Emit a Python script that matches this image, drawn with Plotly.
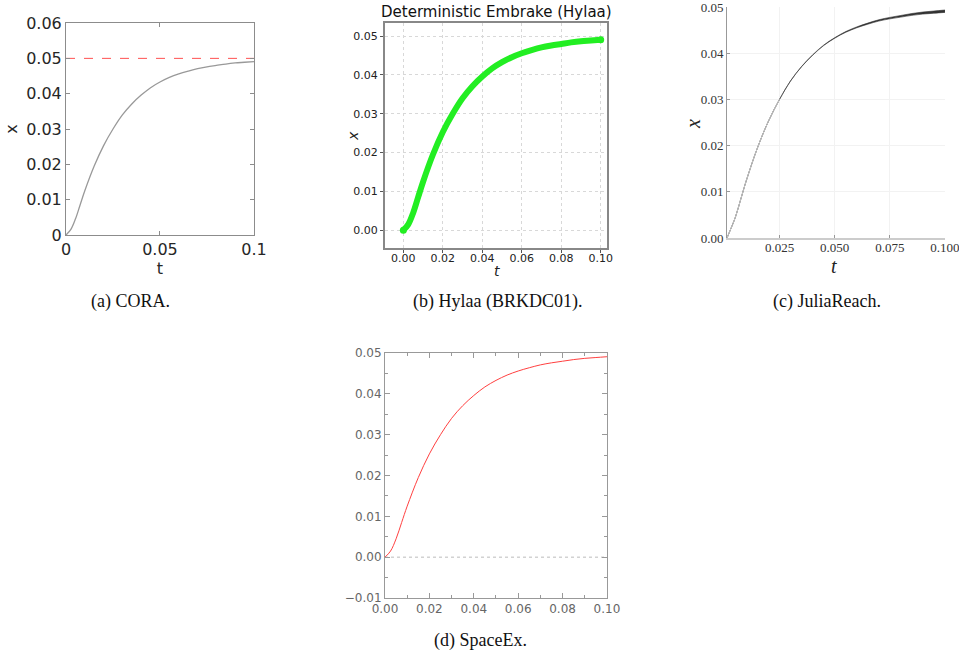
import plotly.graph_objects as go

# Shared trajectory (t in s, x position)
t_vals = [0, 0.0025, 0.005, 0.0075, 0.01, 0.015, 0.02, 0.025, 0.03, 0.035, 0.04,
          0.045, 0.05, 0.055, 0.06, 0.065, 0.07, 0.075, 0.08, 0.085, 0.09, 0.095, 0.1]
x_vals = [0, 0.0015, 0.0045, 0.0085, 0.0125, 0.0195, 0.0253, 0.0300, 0.0340, 0.0371, 0.0396,
          0.0417, 0.0433, 0.0446, 0.0456, 0.0464, 0.0471, 0.0476, 0.0480, 0.0484, 0.0487, 0.0489, 0.0491]
# JuliaReach band half-width (grows toward the end)
julia_spread = [0, 0, 0, 0, 0, 0, 0, 0, 0.00002, 0.00003, 0.00004,
                0.00005, 0.00006, 0.00008, 0.0001, 0.00012, 0.00014, 0.00016, 0.00018, 0.0002, 0.00022, 0.00024, 0.00026]
julia_t = [0.0012] + t_vals[1:]
julia_x = [0.0] + x_vals[1:]
spec_limit = 0.05

julia_xticks = [0.025, 0.05, 0.075, 0.1]
julia_yticks = [0.0, 0.01, 0.02, 0.03, 0.04, 0.05]

captions = ["(a) CORA.", "(b) Hylaa (BRKDC01).", "(c) JuliaReach.", "(d) SpaceEx."]
hylaa_title = "Deterministic Embrake (Hylaa)"

W, H = 959, 660
def dx(a, b):
    return [a / W, b / W]
def dy(top, bottom):
    return [1 - bottom / H, 1 - top / H]

fig = go.Figure()

# (a) CORA
fig.add_trace(go.Scatter(x=[0, 0.1], y=[spec_limit, spec_limit], mode="lines",
                         line=dict(color="#ff5050", width=1, dash="dash"),
                         xaxis="x", yaxis="y", showlegend=False))
fig.add_trace(go.Scatter(x=t_vals, y=x_vals, mode="lines", line=dict(color="#999999", width=1.3, shape="spline"),
                         xaxis="x", yaxis="y", showlegend=False))

# (b) Hylaa
fig.add_trace(go.Scatter(x=t_vals, y=x_vals, mode="lines", line=dict(color="#22ee22", width=6, shape="spline"),
                         xaxis="x2", yaxis="y2", showlegend=False))
fig.add_trace(go.Scatter(x=[t_vals[0], t_vals[-1]], y=[x_vals[0], x_vals[-1]], mode="markers",
                         marker=dict(color="#22ee22", size=7),
                         xaxis="x2", yaxis="y2", showlegend=False))

# (c) JuliaReach band
lo = [v - s for v, s in zip(julia_x, julia_spread)]
hi = [v + s for v, s in zip(julia_x, julia_spread)]
fig.add_trace(go.Scatter(x=julia_t, y=lo, mode="lines", line=dict(color="#333333", width=0.6, shape="spline"),
                         xaxis="x3", yaxis="y3", showlegend=False))
fig.add_trace(go.Scatter(x=julia_t, y=hi, mode="lines", line=dict(color="#333333", width=0.6, shape="spline"),
                         fill="tonexty", fillcolor="#333333",
                         xaxis="x3", yaxis="y3", showlegend=False))
fig.add_trace(go.Scatter(x=julia_t[:8], y=julia_x[:8], mode="lines", line=dict(color="#cccccc", width=1, shape="spline"),
                         xaxis="x3", yaxis="y3", showlegend=False))

# (d) SpaceEx
fig.add_trace(go.Scatter(x=[0, 0.1], y=[0, 0], mode="lines", line=dict(color="#aaaaaa", width=0.8, dash="dot"),
                         xaxis="x4", yaxis="y4", showlegend=False))
fig.add_trace(go.Scatter(x=t_vals, y=x_vals, mode="lines", line=dict(color="#ff4040", width=1, shape="spline"),
                         xaxis="x4", yaxis="y4", showlegend=False))

sans = "DejaVu Sans"
serif = "Liberation Serif"

fig.update_layout(
    width=W, height=H, margin=dict(l=0, r=0, t=0, b=0),
    paper_bgcolor="white", plot_bgcolor="white",
    # (a)
    xaxis=dict(domain=dx(66, 254), anchor="y", range=[0, 0.10001], dtick=0.05, automargin=False,
               showline=True, linecolor="#8c8c8c", linewidth=1, mirror="allticks",
               ticks="inside", ticklen=4, tickcolor="#8c8c8c", showgrid=False, zeroline=False,
               tickfont=dict(family=sans, size=16, color="#262626"), ticklabeloverflow="allow",
               title=dict(text="t", font=dict(family=sans, size=16, color="#262626"), standoff=2)),
    yaxis=dict(domain=dy(23, 235), anchor="x", range=[0, 0.06001], dtick=0.01, automargin=False,
               showline=True, linecolor="#8c8c8c", linewidth=1, mirror="allticks",
               ticks="inside", ticklen=4, tickcolor="#8c8c8c", showgrid=False, zeroline=False,
               tickfont=dict(family=sans, size=16, color="#262626"), ticklabeloverflow="allow",
               title=dict(text="x", font=dict(family=sans, size=16, color="#262626"), standoff=4)),
    # (b)
    xaxis2=dict(domain=dx(385, 607), anchor="y2", range=[-0.0093, 0.1032], dtick=0.02, tickformat=".2f",
                automargin=False, ticklabelstandoff=-4,
                showline=True, linecolor="#888888", linewidth=2, mirror=True,
                ticks="outside", ticklen=3, tickcolor="#555555",
                showgrid=True, gridcolor="#d8d8d8", griddash="dot", gridwidth=1, zeroline=False,
                tickfont=dict(family=sans, size=11, color="#222222")),
    yaxis2=dict(domain=dy(23, 248), anchor="x2", range=[-0.0046, 0.0534], dtick=0.01, tickformat=".2f",
                automargin=False,
                showline=True, linecolor="#888888", linewidth=2, mirror=True,
                ticks="outside", ticklen=3, tickcolor="#555555",
                showgrid=True, gridcolor="#d8d8d8", griddash="dot", gridwidth=1, zeroline=False,
                tickfont=dict(family=sans, size=11, color="#222222")),
    # (c)
    xaxis3=dict(domain=dx(727, 945), anchor="y3", range=[0.0012, 0.10002], tickvals=julia_xticks,
                tickformat=".3f", automargin=False, ticklabeloverflow="allow", ticklabelstandoff=-4,
                showline=True, linecolor="#cccccc", linewidth=2, mirror=False,
                ticks="inside", ticklen=3, tickcolor="#999999",
                showgrid=True, gridcolor="#f2f2f2", gridwidth=1, zeroline=False,
                tickfont=dict(family=serif, size=13, color="#333333")),
    yaxis3=dict(domain=dy(7, 238), anchor="x3", range=[0, 0.05001], tickvals=julia_yticks, tickformat=".2f",
                automargin=False, ticklabeloverflow="allow",
                showline=True, linecolor="#999999", linewidth=1, mirror=False,
                ticks="inside", ticklen=3, tickcolor="#999999",
                showgrid=True, gridcolor="#f2f2f2", gridwidth=1, zeroline=False,
                tickfont=dict(family=serif, size=13, color="#333333")),
    # (d)
    xaxis4=dict(domain=dx(385, 607), anchor="y4", range=[0, 0.10001], dtick=0.02, tickformat=".2f",
                automargin=False,
                showline=True, linecolor="#999999", linewidth=1, mirror="allticks",
                ticks="inside", ticklen=5, tickcolor="#999999",
                minor=dict(ticks="inside", dtick=0.01, ticklen=3, tickcolor="#999999"),
                showgrid=False, zeroline=False,
                tickfont=dict(family=sans, size=12, color="#666666")),
    yaxis4=dict(domain=dy(353, 598), anchor="x4", range=[-0.01, 0.05001], dtick=0.01, tickformat=".2f",
                automargin=False,
                showline=True, linecolor="#999999", linewidth=1, mirror="allticks",
                ticks="inside", ticklen=5, tickcolor="#999999",
                minor=dict(ticks="inside", dtick=0.005, ticklen=3, tickcolor="#999999"),
                showgrid=False, zeroline=False,
                tickfont=dict(family=sans, size=12, color="#666666")),
)

def label(text, px, py, font, angle=0):
    fig.add_annotation(text=text, x=px / W, y=1 - py / H, xref="paper", yref="paper",
                       showarrow=False, font=font, xanchor="center", yanchor="middle", textangle=angle)

cap_font = dict(family=serif, size=18, color="#111111")
for text, cx, cy in [(captions[0], 130, 302), (captions[1], 497, 302),
                     (captions[2], 827, 302), (captions[3], 480, 640)]:
    label(text, cx, cy, cap_font)

label(hylaa_title, 496, 12, dict(family=sans, size=15, color="#111111"))
# Hylaa axis titles
label("<i>t</i>", 497, 271, dict(family=sans, size=14, color="#222222"))
label("<i>x</i>", 353, 136, dict(family=sans, size=14, color="#222222"), -90)
# JuliaReach axis titles
label("<i>t</i>", 834, 266, dict(family=serif, size=20, color="#222222"))
label("<i>x</i>", 693, 124, dict(family=serif, size=20, color="#222222"), -90)

fig.write_html("out.html", config={"displayModeBar": False},
               post_script="document.body.style.margin='0';document.body.style.overflow='hidden';")
